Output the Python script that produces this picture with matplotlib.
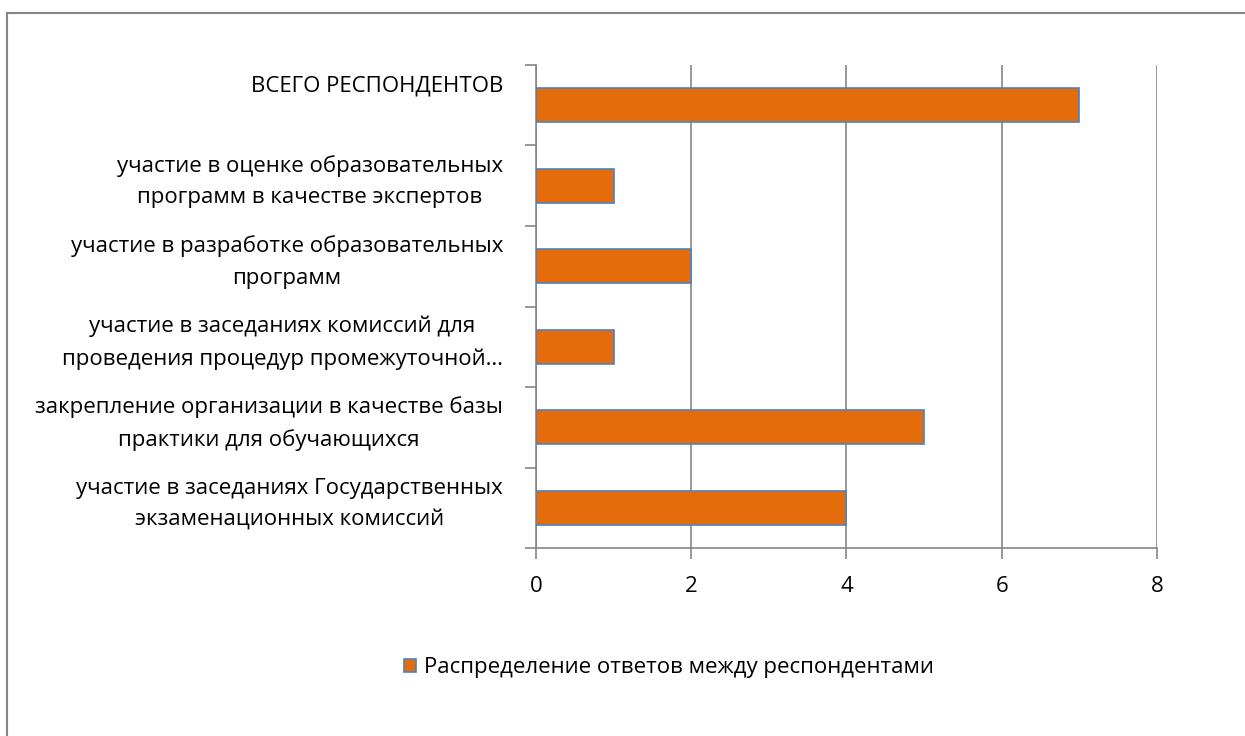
import matplotlib
matplotlib.use('Agg')

import matplotlib.pyplot as plt
from matplotlib.lines import Line2D
from matplotlib.ticker import FixedLocator

plt.rcParams['font.family'] = ['Open Sans', 'DejaVu Sans']

# Data (top to bottom)
categories = [
    'ВСЕГО РЕСПОНДЕНТОВ\n ',
    'участие в оценке образовательных\nпрограмм в качестве экспертов',
    'участие в разработке образовательных\nпрограмм',
    'участие в заседаниях комиссий для\nпроведения процедур промежуточной…',
    'закрепление организации в качестве базы\nпрактики для обучающихся',
    'участие в заседаниях Государственных\nэкзаменационных комиссий',
]
values = [7, 1, 2, 1, 5, 4]
series_name = 'Распределение ответов между респондентами'
x_ticks = [0, 2, 4, 6, 8]

BAR_COLOR = '#E46C0A'
EDGE_COLOR = '#4F81BD'
AXIS_COLOR = '#868686'
FONT_SIZE = 16

fig = plt.figure(figsize=(12.45, 7.36), dpi=100)
ax = fig.add_axes([0.4305, 0.2554, 0.4988, 0.6563])

pos = list(range(len(categories)))
ax.barh(pos, values, height=0.42, color=BAR_COLOR, edgecolor=EDGE_COLOR,
        linewidth=1.2, label=series_name, zorder=3)

ax.set_xlim(0, 8)
ax.set_ylim(len(categories) - 0.5, -0.5)
ax.set_xticks(x_ticks)
ax.set_xticklabels([str(t) for t in x_ticks], fontsize=FONT_SIZE)
ax.tick_params(axis='x', length=8, width=1.2, color=AXIS_COLOR, pad=12)

# category labels: block right-aligned, lines centred, nudged slightly up
ax.set_yticks(pos)
ax.set_yticklabels([])
ax.tick_params(axis='y', which='major', length=0)
for p, label in zip(pos, categories):
    ax.text(-0.053, p - 0.05, label, transform=ax.get_yaxis_transform(),
            ha='right', va='center', multialignment='center',
            fontsize=FONT_SIZE, linespacing=1.65)

ax.yaxis.set_minor_locator(FixedLocator([p - 0.5 for p in pos] + [len(pos) - 0.5]))
ax.tick_params(axis='y', which='minor', length=8, width=1.2, color=AXIS_COLOR)

ax.grid(axis='x', color=AXIS_COLOR, linewidth=1.2, zorder=0)
for side in ('top', 'right'):
    ax.spines[side].set_visible(False)
for side in ('left', 'bottom'):
    ax.spines[side].set_color(AXIS_COLOR)
    ax.spines[side].set_linewidth(1.2)

fig.legend(loc='center', bbox_to_anchor=(0.537, 0.0924), frameon=False,
           fontsize=FONT_SIZE, handlelength=0.55, handleheight=0.55,
           handletextpad=0.36)

# outer chart frame (only top and left edges are visible)
fig.add_artist(Line2D([0.0058, 1.0], [0.9823, 0.9823], transform=fig.transFigure,
                      color=AXIS_COLOR, linewidth=1.5))
fig.add_artist(Line2D([0.0058, 0.0058], [0.0, 0.9823], transform=fig.transFigure,
                      color=AXIS_COLOR, linewidth=1.5))

fig.savefig('out.png', dpi=100)
